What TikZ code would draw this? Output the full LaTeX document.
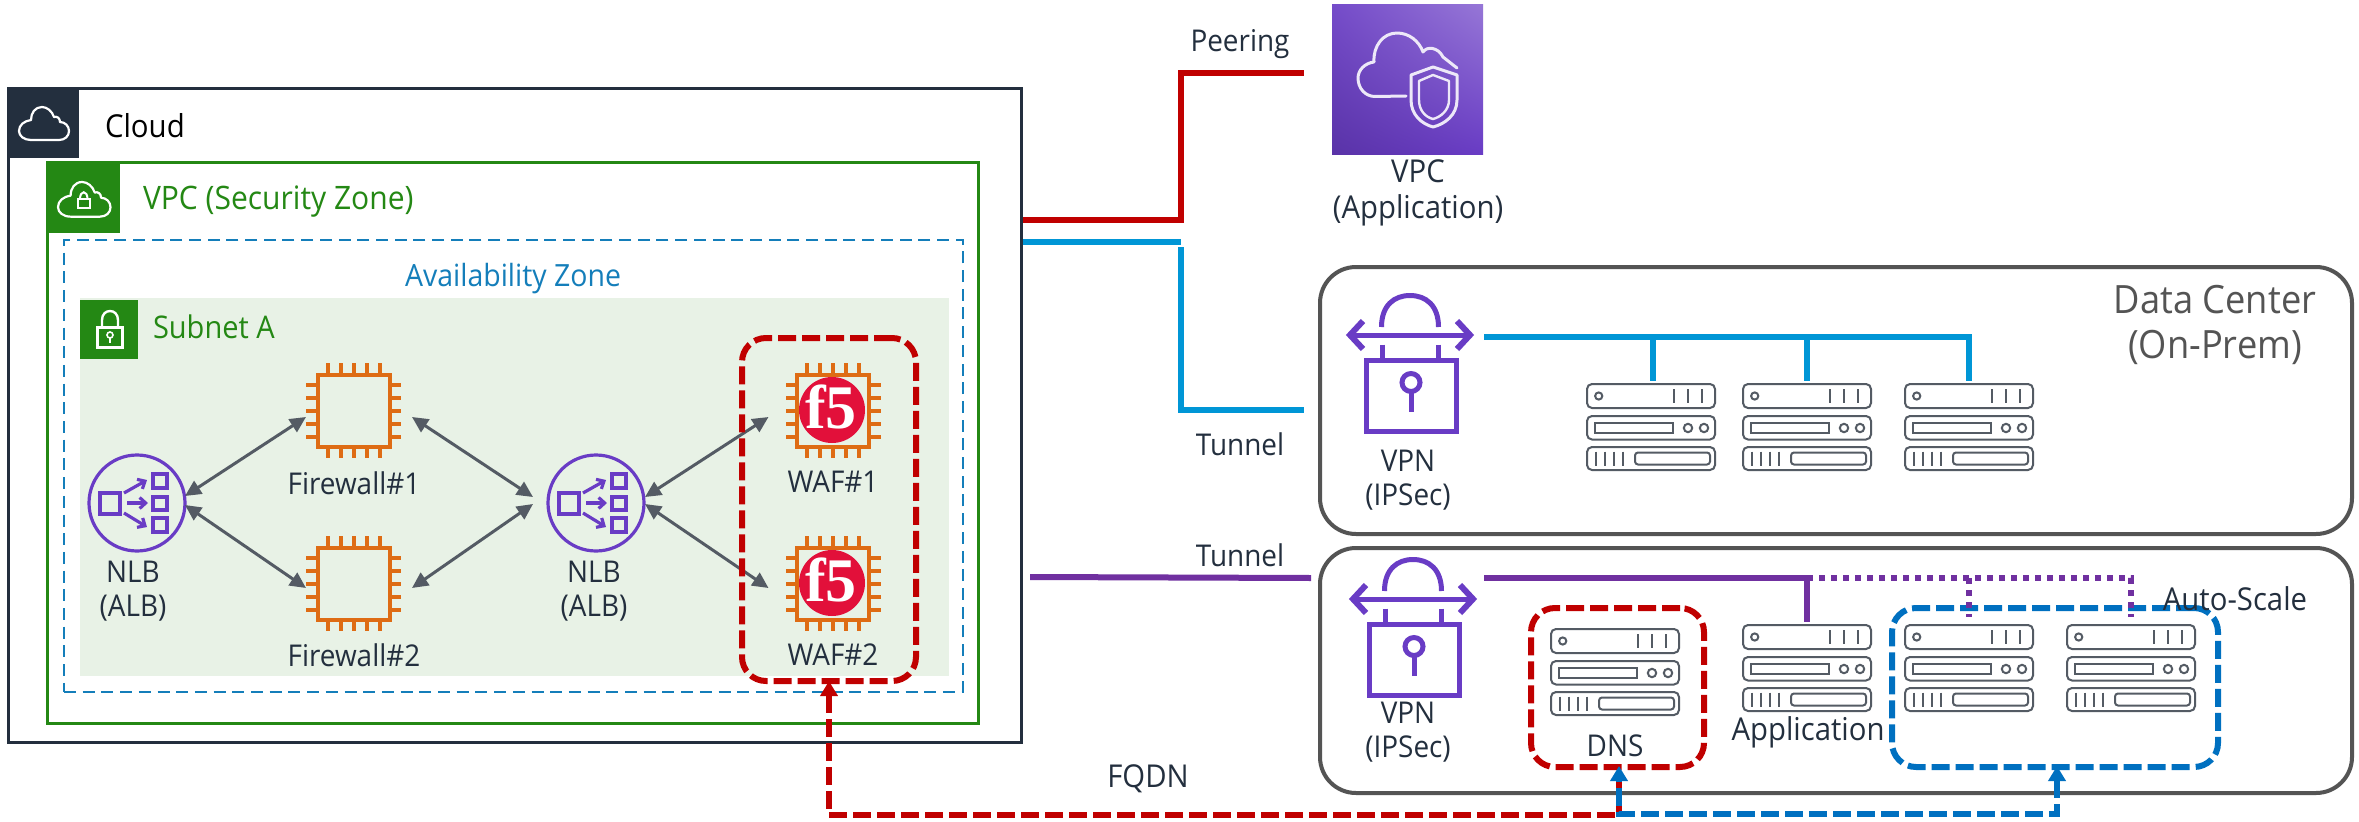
\documentclass[tikz,border=0pt]{standalone}
\usepackage{fontspec}
\setmainfont[FakeStretch=0.93]{Open Sans}
\newfontfamily\fivefont{Liberation Serif}
\usetikzlibrary{arrows.meta,shadings}
\definecolor{awsdark}{HTML}{232F3E}
\definecolor{vpcgreen}{HTML}{248814}
\definecolor{azblue}{HTML}{147EBA}
\definecolor{subfill}{HTML}{E8F2E6}
\definecolor{chipor}{HTML}{DE6C14}
\definecolor{iconpu}{HTML}{693CC5}
\definecolor{greyar}{HTML}{545B64}
\definecolor{boxgrey}{HTML}{545454}
\definecolor{redline}{HTML}{C00000}
\definecolor{skyline}{HTML}{0096D6}
\definecolor{bluedash}{HTML}{0070C0}
\definecolor{purpline}{HTML}{7030A0}
\definecolor{fivered}{HTML}{E2103A}
\tikzset{
  box/.style={rectangle,inner sep=0pt,outer sep=0pt},
  lab/.style={inner sep=0pt,outer sep=0pt,align=center,text=awsdark,font=\fontsize{30}{34.5}\selectfont},
  widelab/.style={lab,font=\fontsize{31.5}{35.5}\selectfont},
  grouplab/.style={inner sep=0pt,outer sep=0pt,anchor=west},
  bothways/.style={draw=greyar,line width=3pt,{Triangle[length=16pt,width=15pt]}-{Triangle[length=16pt,width=15pt]}},
  wire/.style={line width=6pt},
  dashbox/.style={box,draw,line width=6pt,rounded corners=24pt,dash pattern=on 18pt off 6pt},
  site/.style={box,draw=boxgrey,line width=4pt,rounded corners=36pt},
  fqdnline/.style={line width=6pt,dash pattern=on 18pt off 6pt},
  srvline/.style={draw=greyar,line width=2pt},
  iconline/.style={draw=iconpu,line width=5pt},
  tabicon/.style={draw=white,line width=2.2pt,line join=round},
}
\newcommand{\cloudshape}{(12,33) -- (40,33) .. controls (46,33) and (50,29) .. (50,24) .. controls (50,19) and (46,15) .. (41,15) .. controls (41,11) and (38,9) .. (35,10) .. controls (33,4) and (28,0) .. (23,0) .. controls (16,0) and (12,6) .. (12,13) .. controls (5,14) and (0,18) .. (0,24) .. controls (0,29) and (5,33) .. (12,33) -- cycle}
% name, cx, cy
\newcommand{\chipicon}[3]{
  \node[box,minimum width=95pt,minimum height=95pt] (#1) at (#2,#3) {};
  \begin{scope}[shift={(#2,#3)},draw=chipor,line width=4pt]
    \draw (-36,-36) rectangle (36,36);
    \foreach \p in {-26,-13,0,13,26}{
      \draw (\p,-36) -- (\p,-47.5);
      \draw (\p,36) -- (\p,47.5);
      \draw (-36,\p) -- (-47.5,\p);
      \draw (36,\p) -- (47.5,\p);
    }
  \end{scope}
}
% name, cx, cy
\newcommand{\nlbicon}[3]{
  \node[circle,inner sep=0pt,outer sep=0pt,minimum size=96pt,draw=iconpu,line width=3.2pt] (#1) at (#2,#3) {};
  \begin{scope}[shift={(#2,#3)},draw=iconpu,line width=3.2pt]
    \draw (-37,-10) rectangle (-17,11);
    \draw (16,-29) rectangle (30,-15);
    \draw (16,-6) rectangle (30,7);
    \draw (16,15) rectangle (30,29);
    \draw[-{Straight Barb[length=6pt,width=11pt]}] (-13,-10) -- (10,-23);
    \draw[-{Straight Barb[length=6pt,width=11pt]}] (-10,0) -- (11,0);
    \draw[-{Straight Barb[length=6pt,width=11pt]}] (-13,10) -- (10,24);
  \end{scope}
}
% name, left x, top y
\newcommand{\srvicon}[3]{
  \node[box,minimum width=128pt,minimum height=86pt,anchor=north west] (#1) at (#2,#3) {};
  \begin{scope}[shift={(#2,#3)}]
    \draw[srvline,rounded corners=5pt] (0,0) rectangle (128,24);
    \draw[srvline,rounded corners=5pt] (0,32) rectangle (128,55.5);
    \draw[srvline,rounded corners=5pt] (0,63) rectangle (128,86);
    \draw[srvline] (11.7,12) circle (3.6pt);
    \foreach \p in {87,101,115}{\draw[srvline] (\p,5) -- (\p,19);}
    \draw[srvline] (8,39) rectangle (86,49);
    \draw[srvline] (101,44) circle (4.2pt);
    \draw[srvline] (117,44) circle (4.2pt);
    \foreach \p in {9,18,27,36}{\draw[srvline] (\p,67.5) -- (\p,82);}
    \draw[srvline,rounded corners=3pt] (48,68.5) rectangle (123,80.5);
  \end{scope}
}
% name, cx, cy
\newcommand{\vpnicon}[3]{
  \node[box,minimum width=124pt,minimum height=137pt] (#1) at (#2,#3) {};
  \begin{scope}[shift={(#2,#3)}]
    \draw[iconline] (-28.5,-36.5) .. controls (-28.5,-58) and (-16,-68) .. (0,-68) .. controls (16,-68) and (28.5,-58) .. (28.5,-36.5);
    \draw[iconline] (-60,-28.5) -- (60,-28.5);
    \draw[iconline,line width=6pt,line join=miter] (-47,-42.5) -- (-60,-28.5) -- (-47,-14.5);
    \draw[iconline,line width=6pt,line join=miter] (47,-42.5) -- (60,-28.5) -- (47,-14.5);
    \draw[iconline] (-28,-19) -- (-28,-3);
    \draw[iconline] (28,-19) -- (28,-3);
    \draw[iconline] (-44,-3.5) rectangle (46,67.5);
    \draw[iconline] (1,19) circle (9pt);
    \draw[iconline] (1,28) -- (1,48);
  \end{scope}
}
% cx, cy
\newcommand{\fivebadge}[2]{
  \fill[fivered] (#1,#2) circle (33pt);
  \node[inner sep=0pt,text=white,font=\fivefont\bfseries\fontsize{62}{62}\selectfont] at (#1-1,#2-3) {f5};
}
\begin{document}
\begin{tikzpicture}[x=1pt,y=-1pt]
\fill[white] (0,0) rectangle (2359,822);
\useasboundingbox (0,0) rectangle (2359,822);

% Cloud group
\node[box,draw=awsdark,line width=3pt,minimum width=1013pt,minimum height=654pt] (cloud) at (514.5,415) {};
\fill[awsdark] (8,88) rectangle (79,158);
\begin{scope}[shift={(19,107)}]
  \draw[tabicon] \cloudshape;
\end{scope}
\node[grouplab,text=black,font=\fontsize{31.6}{36}\selectfont] (cloudlab) at (105,126) {Cloud};

% VPC group
\node[box,draw=vpcgreen,line width=3pt,minimum width=931pt,minimum height=561pt] (vpc) at (512.5,442.5) {};
\fill[vpcgreen] (47,162) rectangle (120,233);
\begin{scope}[shift={(58,182)},scale=1.05]
  \draw[tabicon] \cloudshape;
\end{scope}
\draw[white,line width=2pt] (77.5,199) rectangle (90,208);
\draw[white,line width=2pt] (80,199) .. controls (80,190) and (87.5,190) .. (87.5,199);
\node[grouplab,text=vpcgreen,font=\fontsize{32.3}{36}\selectfont] (vpclab) at (143,202) {VPC (Security Zone)};

% Availability zone
\node[box,draw=azblue,line width=2.6pt,dash pattern=on 12pt off 6.7pt,minimum width=899pt,minimum height=452pt] (az) at (513.5,466) {};
\node[lab,text=azblue,font=\fontsize{30.6}{36}\selectfont] (azlab) at (513,279) {Availability Zone};

% Subnet
\node[box,fill=subfill,minimum width=869pt,minimum height=378pt] (subnet) at (514.5,487) {};
\fill[vpcgreen] (80,300) rectangle (138,359);
\draw[white,line width=2.4pt] (97.5,327.5) rectangle (122.5,347.5);
\draw[white,line width=2.4pt] (102,327.5) -- (102,320) .. controls (102,308) and (118,308) .. (118,320) -- (118,327.5);
\draw[white,line width=1.6pt] (110,335) circle (3pt);
\draw[white,line width=1.6pt] (110,338) -- (110,343);
\node[grouplab,text=vpcgreen,font=\fontsize{31.2}{36}\selectfont] (sublab) at (153,327) {Subnet A};

% Subnet contents
\nlbicon{nlbl}{137}{503}
\nlbicon{nlbm}{596}{503}
\chipicon{fwa}{353.5}{410.5}
\chipicon{fwb}{353.5}{583.5}
\chipicon{wafa}{833}{410.5}
\chipicon{wafb}{833}{583.5}
\fivebadge{832}{410}
\fivebadge{832}{583}
\node[lab] (nlbllab) at (133,591) {NLB\\(ALB)};
\node[lab] (nlbmlab) at (594,591) {NLB\\(ALB)};
\node[lab] (fwalab) at (354,483) {Firewall\#1};
\node[lab] (fwblab) at (354,655) {Firewall\#2};
\node[lab] (wafalab) at (833,482) {WAF\#1};
\node[lab] (wafblab) at (833,655) {WAF\#2};

\draw[bothways] ([yshift=7pt]nlbl.east) -- ([yshift=-6.5pt]fwa.west);
\draw[bothways] ([yshift=-2pt]nlbl.east) -- ([yshift=-4.5pt]fwb.west);
\draw[bothways] ([xshift=11pt,yshift=-6.5pt]fwa.east) -- ([xshift=-15pt,yshift=6pt]nlbm.west);
\draw[bothways] ([xshift=11pt,yshift=-4.5pt]fwb.east) -- ([xshift=-15pt,yshift=-1pt]nlbm.west);
\draw[bothways] ([xshift=1pt,yshift=6pt]nlbm.east) -- ([xshift=-17pt,yshift=-6.5pt]wafa.west);
\draw[bothways] ([xshift=1pt,yshift=-1pt]nlbm.east) -- ([xshift=-17pt,yshift=-4.5pt]wafb.west);

\node[dashbox,draw=redline,minimum width=174pt,minimum height=343pt] (wafbox) at (829,509.5) {};

% VPC Application
\node[box,shading=bilinear interpolation,lower left=iconpu!85!black,lower right=iconpu,upper left=iconpu!92!white,upper right=iconpu!70!white,minimum width=151pt,minimum height=150pt] (vpcapp) at (1407.5,79) {};
\draw[white!88!iconpu,line width=3pt,line cap=round,line join=round]
  (1406,96) -- (1375,96.5) .. controls (1365,96.5) and (1358,88) .. (1358,78) .. controls (1358,70) and (1365,63) .. (1374,62)
  .. controls (1373,46) and (1383,33) .. (1397,33) .. controls (1409,33) and (1419,41) .. (1423,52)
  .. controls (1427,46) and (1438,47) .. (1443,57) -- (1457,68);
\draw[white!88!iconpu,line width=3pt,line join=round]
  (1433,67) -- (1411,75) -- (1411,100) .. controls (1411,115) and (1422,124) .. (1433,127) .. controls (1445,124) and (1457,115) .. (1457,100) -- (1457,75) -- cycle;
\draw[white!88!iconpu,line width=2.4pt,line join=round]
  (1433,75) -- (1419,81) -- (1419,100) .. controls (1419,110) and (1425,117) .. (1433,119) .. controls (1441,117) and (1449,110) .. (1449,100) -- (1449,81) -- cycle;
\node[widelab] (vpcapplab) at (1418,193) {VPC\\(Application)};

% Data center
\node[site,minimum width=1032pt,minimum height=267pt] (dc) at (1836,400.5) {};
\node[lab,text=boxgrey,font=\fontsize{39}{45}\selectfont] (dclab) at (2215,325) {Data Center\\(On-Prem)};
\vpnicon{vpna}{1410}{363.5}
\node[lab] (vpnalab) at (1408,480) {VPN\\(IPSec)};
\srvicon{sa}{1587}{384}
\srvicon{sb}{1743}{384}
\srvicon{sc}{1905}{384}

% Second site
\node[site,minimum width=1032pt,minimum height=245pt] (site) at (1836,670.5) {};
\vpnicon{vpnb}{1413}{627.5}
\node[lab] (vpnblab) at (1408,732) {VPN\\(IPSec)};
\srvicon{sd}{1551}{629}
\srvicon{se}{1743}{625}
\srvicon{sf}{1905}{625}
\srvicon{sg}{2067}{625}
\node[lab] (dnslab) at (1615,746) {DNS};
\node[widelab] (applab) at (1808,732) {Application};

% connectors to the sites
\coordinate (redlow) at (1181,220);
\coordinate (redhigh) at (1181,73);
\draw[wire,redline] ([xshift=2pt,yshift=195pt]cloud.east) -- (redlow) -- (redhigh) -- ([xshift=-28pt,yshift=6pt]vpcapp.west);
\coordinate (skyend) at (1181,242);
\coordinate (skytop) at (1181,247);
\coordinate (skybot) at (1181,410);
\draw[wire,skyline] ([xshift=2pt,yshift=173pt]cloud.east) -- (skyend);
\draw[wire,skyline] (skytop) -- (skybot) -- ([xshift=-16pt,yshift=-9.5pt]dc.west);
\draw[wire,purpline] ([xshift=9pt,yshift=-162pt]cloud.east) -- ([xshift=-9pt,yshift=92.5pt]site.west);
\node[lab] (peerlab) at (1240,44) {Peering};
\node[lab] (tunalab) at (1240,444) {Tunnel};
\node[lab] (tunblab) at (1240,555) {Tunnel};

% buses
\coordinate (skybus) at (1969,337);
\draw[wire,skyline] ([xshift=12pt,yshift=26.5pt]vpna.east) -- (skybus) -- ([yshift=3pt]sc.north);
\coordinate (taps) at (1653,337);
\coordinate (tapb) at (1807,337);
\draw[wire,skyline] (taps) -- ([xshift=2pt,yshift=3pt]sa.north);
\draw[wire,skyline] (tapb) -- ([yshift=3pt]sb.north);
\coordinate (purpbus) at (1807,578);
\coordinate (purpend) at (2131,578);
\coordinate (purptap) at (1969,578);
\draw[wire,purpline] ([xshift=9pt,yshift=49.5pt]vpnb.east) -- (purpbus) -- ([yshift=3pt]se.north);

% dashed groups
\node[dashbox,draw=redline,minimum width=173pt,minimum height=159pt] (dnsbox) at (1617.5,687.5) {};
\node[dashbox,draw=bluedash,minimum width=326pt,minimum height=159pt] (autobox) at (2055,687.5) {};
\node[widelab] (autolab) at (2235,599) {Auto-Scale};

\draw[wire,purpline,dash pattern=on 6pt off 6pt] (purpbus) -- (purpend) -- ([yshift=8pt]sg.north);
\draw[wire,purpline,dash pattern=on 6pt off 6pt] (purptap) -- ([yshift=8pt]sf.north);

% FQDN
\coordinate (fqa) at (829,815);
\coordinate (fqb) at (1619,815);
\coordinate (fqc) at (1619,814);
\coordinate (fqd) at (2057,814);
\draw[fqdnline,redline,{Triangle[length=15pt,width=17pt]}-] (wafbox.south) -- (fqa) -- (fqb) -- ([xshift=1.5pt]dnsbox.south);
\draw[fqdnline,bluedash,{Triangle[length=15pt,width=17pt]}-{Triangle[length=15pt,width=17pt]}] ([xshift=2pt,yshift=1pt]autobox.south) -- (fqd) -- (fqc) -- ([xshift=1.5pt,yshift=1pt]dnsbox.south);
\node[widelab] (fqdnlab) at (1148,779) {FQDN};
\end{tikzpicture}
\end{document}
